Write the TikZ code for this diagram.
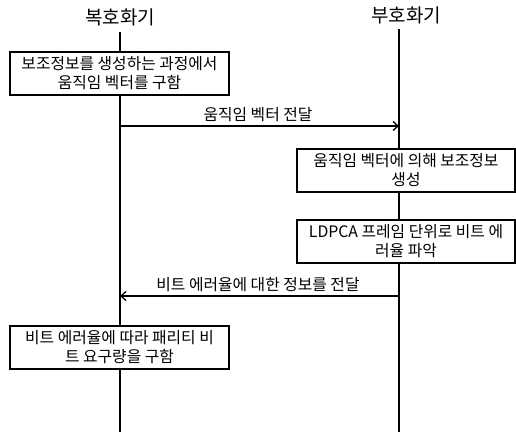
\documentclass[tikz,border=0pt]{standalone}
\usepackage{fontspec}
\setmainfont{Noto Sans CJK KR}
\usetikzlibrary{arrows.meta}
\tikzset{
  lifeline/.style={line width=1.8pt},
  procbox/.style={draw, line width=1.3pt, fill=white, align=center, font=\fontsize{15.8}{19}\selectfont, inner sep=0pt},
  msg/.style={line width=1.3pt, -{Straight Barb[length=5pt,width=9pt,line width=1.3pt]}},
  msglabel/.style={font=\fontsize{15.8}{18}\selectfont, anchor=base},
  title/.style={font=\fontsize{19}{22}\selectfont}
}
\begin{document}
\begin{tikzpicture}[x=1pt,y=-1pt]
\useasboundingbox (0,0) rectangle (516,432);
% titles
\node[title] (dec) at (120,17) {복호화기};
\node[title] (enc) at (406,15) {부호화기};
% lifeline ends
\coordinate (ltop) at (120,32);
\coordinate (lbot) at (120,432);
\coordinate (rtop) at (399,29);
\coordinate (rbot) at (399,432);
\draw[lifeline] (ltop) -- (lbot);
\draw[lifeline] (rtop) -- (rbot);
% boxes
\node[procbox, minimum width=219pt, minimum height=43pt] (b1) at (119.5,73.5) {보조정보를 생성하는 과정에서\\움직임 벡터를 구함};
\node[procbox, minimum width=218pt, minimum height=43pt] (b2) at (406,170.5) {움직임 벡터에 의해 보조정보\\생성};
\node[procbox, minimum width=218pt, minimum height=43pt] (b3) at (406,241.5) {LDPCA 프레임 단위로 비트 에\\러율 파악};
\node[procbox, minimum width=219pt, minimum height=43pt] (b4) at (119.5,347.5) {비트 에러율에 따라 패리티 비\\트 요구량을 구함};
% messages
\coordinate (m1s) at (120,126);
\coordinate (m1e) at (399,126);
\draw[msg] (m1s) -- (m1e);
\node[msglabel] (l1) at (258,120) {움직임 벡터 전달};
\coordinate (m2s) at (399,296);
\coordinate (m2e) at (120,296);
\draw[msg] (m2s) -- (m2e);
\node[msglabel] (l2) at (258,290) {비트 에러율에 대한 정보를 전달};
\end{tikzpicture}
\end{document}
